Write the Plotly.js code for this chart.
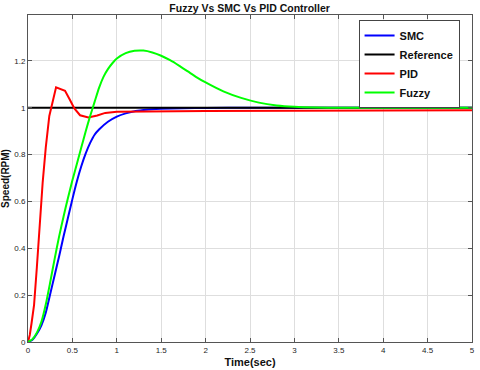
<!DOCTYPE html>
<html><head><meta charset="utf-8">
<script src="https://cdn.plot.ly/plotly-3.0.1.min.js"></script>
<style>html,body{margin:0;padding:0;background:#fff}#chart{width:480px;height:370px}</style>
</head><body><div id="chart"></div>
<script>
// Time axes and series values
const tSMC = [0,0.05,0.1,0.15,0.2,0.25,0.3,0.35,0.4,0.45,0.5,0.55,0.6,0.65,0.7,0.75,0.8,0.9,1.0,1.1,1.2,1.3,1.4,1.5,1.75,2,2.5,3,4,5];
const ySMC = [0,0.01,0.035,0.07,0.125,0.205,0.285,0.365,0.45,0.53,0.61,0.685,0.75,0.805,0.85,0.885,0.907,0.94,0.962,0.976,0.985,0.99,0.994,0.996,0.998,0.999,1.0,1.0,1.0,1.0];

const tRef = [0,5];
const yRef = [1,1];

const tPID = [0,0.02,0.04,0.068,0.1,0.128,0.165,0.2,0.24,0.316,0.417,0.47,0.522,0.586,0.68,0.78,0.87,1.0,1.2,1.5,2,3,4,5];
const yPID = [0,0.03,0.08,0.157,0.32,0.48,0.68,0.83,0.965,1.087,1.072,1.035,0.997,0.968,0.959,0.967,0.978,0.983,0.984,0.985,0.986,0.987,0.988,0.989];

const tFuzzy = [0,0.05,0.1,0.15,0.2,0.25,0.3,0.35,0.4,0.45,0.5,0.55,0.6,0.65,0.7,0.75,0.8,0.85,0.9,0.95,1.0,1.1,1.2,1.3,1.4,1.5,1.6,1.7,1.8,1.9,2.0,2.2,2.4,2.6,2.8,3.0,3.25,3.5,4,5];
const yFuzzy = [0,0.012,0.04,0.085,0.16,0.255,0.355,0.45,0.535,0.615,0.69,0.76,0.83,0.9,0.965,1.025,1.085,1.132,1.165,1.19,1.21,1.233,1.243,1.244,1.236,1.222,1.203,1.18,1.155,1.13,1.108,1.07,1.042,1.022,1.01,1.004,1.001,1.0,1.0,1.0];

const xTicks = [0,0.5,1,1.5,2,2.5,3,3.5,4,4.5,5];
const xTickText = ['0','0.5','1','1.5','2','2.5','3','3.5','4','4.5','5'];
const yTicks = [0,0.2,0.4,0.6,0.8,1,1.2];
const yTickText = ['0','0.2','0.4','0.6','0.8','1','1.2'];

const F = '"Liberation Sans", Arial, Helvetica, sans-serif';
const traces = [
  {x:tSMC, y:ySMC, name:'SMC', mode:'lines', line:{color:'#0000ff', width:2, shape:'spline', smoothing:0.6}},
  {x:tRef, y:yRef, name:'Reference', mode:'lines', line:{color:'#000000', width:2}},
  {x:tPID, y:yPID, name:'PID', mode:'lines', line:{color:'#ff0000', width:2}},
  {x:tFuzzy, y:yFuzzy, name:'Fuzzy', mode:'lines', line:{color:'#00ff00', width:2, shape:'spline', smoothing:0.6}}
];
const axisCommon = {
  showline:true, mirror:'ticks', linecolor:'#555', linewidth:1,
  ticks:'inside', ticklen:4, tickcolor:'#555',
  showgrid:true, gridcolor:'#dedede', gridwidth:1, zeroline:false,
  tickfont:{family:F, size:8, color:'#262626'}, automargin:false
};
const layout = {
  width:480, height:370,
  margin:{l:28, r:8, t:15, b:28},
  paper_bgcolor:'#fff', plot_bgcolor:'#fff',
  font:{family:F},
  showlegend:true,
  title:{text:'<b>Fuzzy Vs SMC Vs PID Controller</b>', font:{family:F, size:10.5, color:'#111'},
         x:0.52, xanchor:'center', y:0.978, yanchor:'middle', yref:'container'},
  xaxis:Object.assign({}, axisCommon, {range:[0,5], tickvals:xTicks, ticktext:xTickText,
         title:{text:'<b>Time(sec)</b>', font:{family:F, size:11, color:'#111'}, standoff:4}}),
  yaxis:Object.assign({}, axisCommon, {range:[0,1.396], tickvals:yTicks, ticktext:yTickText,
         title:{text:'<b>Speed(RPM)</b>', font:{family:F, size:10, color:'#111'}, standoff:2}}),
  legend:{x:0.972, xanchor:'right', y:0.985, yanchor:'top', bgcolor:'#fff',
          bordercolor:'#444', borderwidth:1, font:{family:F, size:11, color:'#111', weight:'bold'},
          tracegroupgap:0, itemwidth:30}
};
Plotly.newPlot('chart', traces, layout, {displayModeBar:false, staticPlot:true});
</script></body></html>
